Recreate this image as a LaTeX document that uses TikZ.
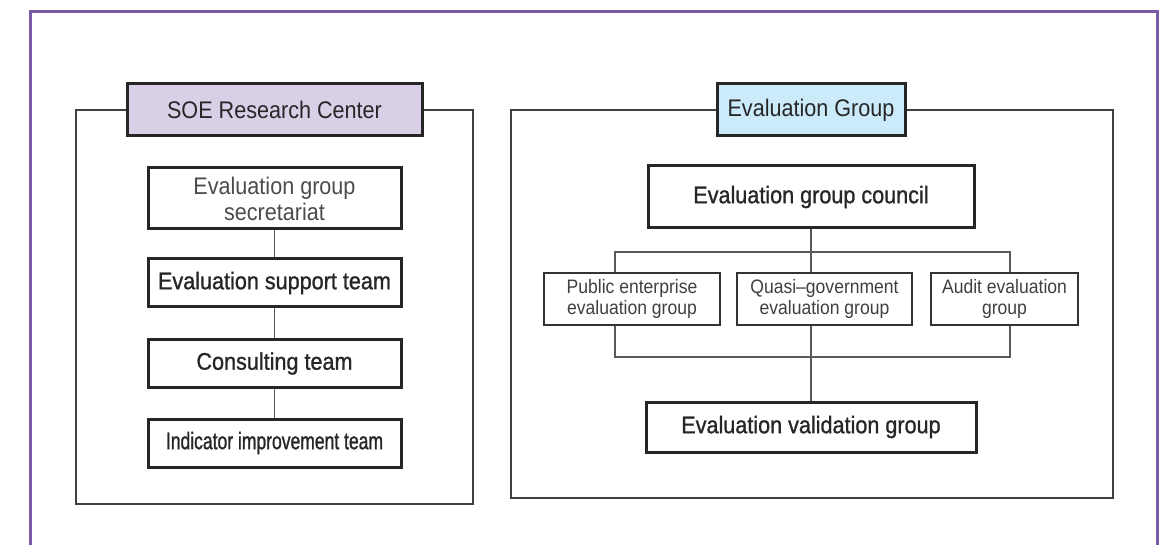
\documentclass[tikz,border=0pt]{standalone}
\usepackage{fontspec}
\setmainfont{Liberation Sans}[FakeStretch=0.9]
\newfontfamily\midfont{Liberation Sans}[FakeStretch=0.9,FakeBold=1]
\newfontfamily\narrowfont{Liberation Sans}[FakeStretch=0.73,FakeBold=1]
\definecolor{frameviolet}{RGB}{122,92,166}
\definecolor{soefill}{RGB}{217,208,232}
\definecolor{evalfill}{RGB}{204,235,250}
\begin{document}
\begin{tikzpicture}[x=1pt,y=-1pt,
  head/.style={draw=black!85,line width=3pt,inner sep=0pt,minimum height=52pt,text=black!85,font=\fontsize{24}{26}\selectfont},
  unit/.style={draw=black!85,line width=3pt,fill=white,inner sep=0pt,align=center,text=black!85,font=\midfont\fontsize{24}{26}\selectfont},
  subunit/.style={draw=black!80,line width=1.5pt,fill=white,inner sep=0pt,align=center,minimum height=52pt,text=black!75,font=\fontsize{19.5}{21}\selectfont},
  panel/.style={draw=black!75,line width=1.4pt},
  link/.style={draw=black!65,line width=1.4pt}]

\useasboundingbox (0,0) rectangle (1165,545);
\draw[frameviolet,line width=3pt] (30,545) |- (1157,12) -- (1157,545);

\node[head,fill=soefill,minimum width=295pt] (soe) at (274.5,110) {SOE Research Center};
\node[head,fill=evalfill,minimum width=188pt] (eg) at (811,110) {Evaluation Group};

\coordinate (soeR) at (473,504);
\coordinate (egR) at (1113,498);
\draw[panel] (soe.west) -| (76,504) -- (soeR) |- (soe.east);
\draw[panel] (eg.west) -| (511,498) -- (egR) |- (eg.east);

\node[unit,minimum width=253pt,minimum height=61pt,text=black!70,font=\fontsize{24}{26}\selectfont] (sec) at (274.5,198.5) {Evaluation group\\secretariat};
\node[unit,minimum width=253pt,minimum height=48pt] (sup) at (274.5,283) {Evaluation support team};
\node[unit,minimum width=253pt,minimum height=47pt] (con) at (274.5,363.5) {Consulting team};
\node[unit,minimum width=253pt,minimum height=48pt,font=\narrowfont\fontsize{24}{26}\selectfont] (ind) at (274.5,443) {Indicator improvement team};
\foreach \a/\b in {sec/sup,sup/con,con/ind}{
	\draw[link] (\a) -- (\b);
}

\node[unit,minimum width=326pt,minimum height=62pt] (council) at (811,197) {Evaluation group council};
\node[subunit,minimum width=176pt] (pub) at (632,299) {Public enterprise\\evaluation group};
\node[subunit,minimum width=175pt] (quasi) at (824.5,299) {Quasi--government\\evaluation group};
\node[subunit,minimum width=147pt] (audit) at (1004.5,299) {Audit evaluation\\group};
\node[unit,minimum width=330pt,minimum height=50pt] (valid) at (811,427) {Evaluation validation group};

\coordinate (barL) at (615,252);
\coordinate (barR) at (1010,252);
\coordinate (lowL) at (615,357);
\coordinate (lowR) at (1010,357);
\draw[link] (council.south) -- (council.south |- barL);
\draw[link] (pub.north -| barL) -- (barL) -- (barR) -- (audit.north -| barR);
\draw[link] (council.south |- barL) -- (quasi.north -| council.south);
\draw[link] (pub.south -| lowL) -- (lowL) -- (lowR) -- (audit.south -| lowR);
\draw[link] (quasi.south -| valid.north) -- (valid.north);
\end{tikzpicture}
\end{document}
